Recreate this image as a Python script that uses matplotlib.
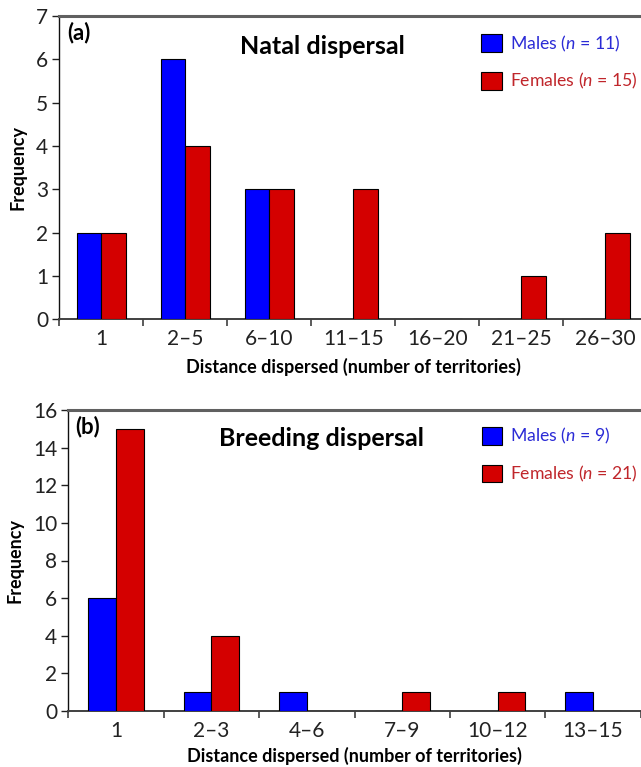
import matplotlib
matplotlib.use("Agg")
import matplotlib.pyplot as plt
import numpy as np

plt.rcParams['font.family'] = ['Lato', 'DejaVu Sans']
plt.rcParams['mathtext.fontset'] = 'custom'
plt.rcParams['mathtext.it'] = 'Lato:italic'
plt.rcParams['mathtext.rm'] = 'Lato'

# (a) 出生分散
natal_bins = ['1', '2–5', '6–10', '11–15', '16–20', '21–25', '26–30']
natal_males = [2, 6, 3, 0, 0, 0, 0]
natal_females = [2, 4, 3, 3, 0, 1, 2]

# (b) 繁殖分散
breed_bins = ['1', '2–3', '4–6', '7–9', '10–12', '13–15']
breed_males = [6, 1, 1, 0, 0, 1]
breed_females = [15, 4, 0, 1, 1, 0]

BLUE = '#0000FF'
RED = '#D40000'
BLUE_TXT = '#2B2BD6'
RED_TXT = '#C0262B'


def draw_panel(ax, bins, males, females, n_m, n_f, ymax, ystep,
               tag, tag_xy, title, title_xy, leg_xy, xlabel_pad):
    x = np.arange(len(bins))
    w = 0.29
    bm = ax.bar(x - w / 2, males, w, color=BLUE, edgecolor='black',
                linewidth=0.8, label=f'Males ($n$ = {n_m})', zorder=3)
    bf = ax.bar(x + w / 2, females, w, color=RED, edgecolor='black',
                linewidth=0.8, label=f'Females ($n$ = {n_f})', zorder=3)

    ax.set_xlim(-0.5, len(bins) - 0.5)
    ax.set_ylim(0, ymax)
    ax.set_yticks(np.arange(0, ymax + 1, ystep))
    ax.set_xticks(x)
    ax.set_xticklabels(bins)
    ax.set_xticks(np.arange(len(bins) + 1) - 0.5, minor=True)
    ax.tick_params(axis='x', which='major', length=0, pad=7, labelsize=15,
                   labelcolor='#222222')
    ax.tick_params(axis='x', which='minor', length=5, width=1.2,
                   color='#404040', direction='out')
    ax.tick_params(axis='y', length=5, width=1.0, color='#202020',
                   labelsize=15, pad=3, labelcolor='#222222')

    ax.spines['left'].set_color('#101010')
    ax.spines['left'].set_linewidth(1.0)
    ax.spines['bottom'].set_color('#404040')
    ax.spines['bottom'].set_linewidth(1.4)
    ax.spines['top'].set_color('#606060')
    ax.spines['top'].set_linewidth(2.2)
    ax.spines['right'].set_visible(False)

    ax.set_xlabel('Distance dispersed (number of territories)',
                  fontsize=13, fontweight='bold', labelpad=xlabel_pad)
    ax.set_ylabel('Frequency', fontsize=13, fontweight='bold', labelpad=7)

    ax.text(*tag_xy, tag, transform=ax.transAxes, fontsize=16,
            fontweight='bold', va='center', ha='left')
    ax.text(*title_xy, title, transform=ax.transAxes, fontsize=18,
            fontweight='bold', va='center', ha='center')

    leg = ax.legend(handles=[bm, bf], loc='upper left',
                    bbox_to_anchor=leg_xy, frameon=False,
                    fontsize=12.7, handlelength=1.15, handleheight=1.15,
                    handletextpad=0.45, labelspacing=1.0,
                    borderpad=0, borderaxespad=0,
                    labelcolor=[BLUE_TXT, RED_TXT])
    return leg


fig = plt.figure(figsize=(6.41, 7.67), dpi=100)
# 軸の位置（ピクセルから換算）
ax1 = fig.add_axes([59.3 / 641, 1 - 319.3 / 767, 588 / 641, 303.3 / 767])
ax2 = fig.add_axes([68.3 / 641, 1 - 711 / 767, 572.4 / 641, 301 / 767])

draw_panel(ax1, natal_bins, natal_males, natal_females, 11, 15, 7, 1,
           '(a)', (0.013, 0.944), 'Natal dispersal', (0.447, 0.899),
           (0.718, 0.942), 6.5)
draw_panel(ax2, breed_bins, breed_males, breed_females, 9, 21, 16, 2,
           '(b)', (0.012, 0.945), 'Breeding dispersal', (0.4415, 0.906),
           (0.722, 0.946), 4.5)

fig.savefig('out.png', dpi=100)
